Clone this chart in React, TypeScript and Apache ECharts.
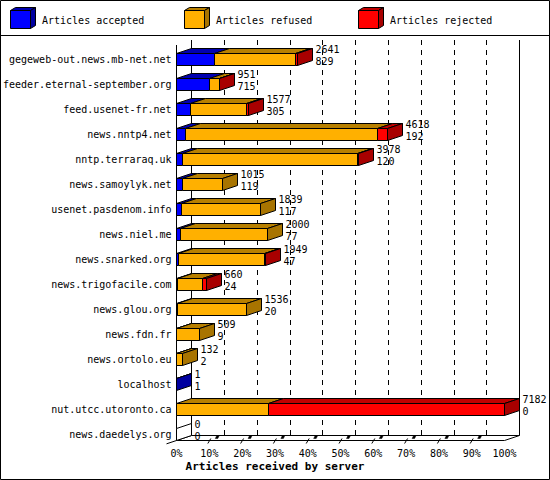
import React, { useEffect, useRef } from 'react';
import * as echarts from 'echarts';

const hosts = [
  'gegeweb-out.news.mb-net.net',
  'feeder.eternal-september.org',
  'feed.usenet-fr.net',
  'news.nntp4.net',
  'nntp.terraraq.uk',
  'news.samoylyk.net',
  'usenet.pasdenom.info',
  'news.niel.me',
  'news.snarked.org',
  'news.trigofacile.com',
  'news.glou.org',
  'news.fdn.fr',
  'news.ortolo.eu',
  'localhost',
  'nut.utcc.utoronto.ca',
  'news.daedelys.org',
];
const accepted = [829, 715, 305, 192, 120, 119, 117, 77, 47, 24, 20, 9, 2, 1, 0, 0];
const refused = [1782, 216, 1232, 4206, 3838, 896, 1722, 1923, 1882, 553, 1516, 500, 130, 0, 2020, 0];
const rejected = [30, 20, 40, 220, 20, 0, 0, 0, 20, 83, 0, 0, 0, 0, 5162, 0];
const legendNames = ['Articles accepted', 'Articles refused', 'Articles rejected'];
const xTickPercents = [0, 10, 20, 30, 40, 50, 60, 70, 80, 90, 100];
const axisTitle = 'Articles received by server';

const FRONT = ['#0000FF', '#FFB000', '#FF0000'];
const TOP = ['#0000B0', '#B88000', '#C00000'];
const SIDE = ['#0000A0', '#A87400', '#A80000'];
const FAMILY = "'DejaVu Sans Mono', monospace";
const FONT = "10px 'DejaVu Sans Mono', monospace";

const GRID_LEFT = 176.5;
const GRID_W = 328;
const GRID_TOP = 46.5;
const ROW = 25;
const DX = 15;
const DY = 5;
const WALL_TOP = 40;
const FLOOR_FRONT = 440.5;
const FLOOR_BACK = FLOOR_FRONT - DY;

function txt(x: number, y: number, text: string, font = FONT, align = 'left') {
  return {
    type: 'text',
    x,
    y,
    style: {
      text,
      font,
      fill: '#000',
      align,
      verticalAlign: 'middle',
      textAlign: align,
      textVerticalAlign: 'middle',
    },
  };
}

function line(x1: number, y1: number, x2: number, y2: number, extra: any = {}) {
  return {
    type: 'line',
    shape: { x1, y1, x2, y2 },
    style: { stroke: '#000', lineWidth: 1, ...extra },
  };
}

export default function App() {
  const ref = useRef<HTMLDivElement>(null);
  useEffect(() => {
    if (!ref.current) return;
    const chart = echarts.init(ref.current, undefined, { renderer: 'svg' });
    const totals = hosts.map((_, i) => accepted[i] + refused[i] + rejected[i]);
    const maxTotal = Math.max(...totals);
    const pct = (v: number) => (v / maxTotal) * 100;
    const data = hosts.map((_, i) => [pct(accepted[i]), pct(refused[i]), pct(rejected[i]), i]);

    const renderItem = (params: any, api: any) => {
      const i = params.dataIndex;
      const vals = [api.value(0), api.value(1), api.value(2)];
      const cat = api.value(3);
      const base = api.coord([0, cat]);
      const yt = Math.round(base[1] - 6) + 0.5;
      const yb = yt + 12;
      const px = (v: number) => Math.floor(api.coord([v, cat])[0] + 0.001) + 0.5;
      const children: any[] = [];
      let acc = 0;
      let last = -1;
      let xEnd = px(0);
      for (let s = 0; s < 3; s++) {
        const v = vals[s];
        if (!(v > 0)) continue;
        const xa = px(acc);
        const xb = px(acc + v);
        acc += v;
        last = s;
        xEnd = xb;
        children.push({
          type: 'polygon',
          shape: { points: [[xa, yt], [xa + DX, yt - DY], [xb + DX, yt - DY], [xb, yt]] },
          style: { fill: TOP[s], stroke: '#000', lineWidth: 1 },
        });
        children.push({
          type: 'rect',
          shape: { x: xa, y: yt, width: xb - xa, height: yb - yt },
          style: { fill: FRONT[s], stroke: '#000', lineWidth: 1 },
        });
      }
      children.push({
        type: 'polygon',
        shape: { points: [[xEnd, yt], [xEnd + DX, yt - DY], [xEnd + DX, yb - DY], [xEnd, yb]] },
        style: { fill: last >= 0 ? SIDE[last] : '#fff', stroke: '#000', lineWidth: 1 },
      });
      const lx = xEnd + DX + 3;
      children.push(txt(lx, yt - 4, String(totals[i])));
      children.push(txt(lx, yt + 7.5, String(accepted[i])));
      return { type: 'group', children };
    };

    const graphic: any[] = [];
    graphic.push({
      type: 'rect',
      shape: { x: 0.5, y: 0.5, width: 549, height: 479 },
      style: { fill: 'none', stroke: '#000', lineWidth: 1 },
    });
    graphic.push(line(0, 35.5, 550, 35.5));
    // legend cubes
    legendNames.forEach((name, k) => {
      const x0 = 10.5 + 174 * k;
      const y0 = 10.5;
      const w = 20;
      const h = 18;
      const dx = 5;
      const dy = 3;
      graphic.push({
        type: 'polygon',
        shape: { points: [[x0, y0], [x0 + dx, y0 - dy], [x0 + w + dx, y0 - dy], [x0 + w, y0]] },
        style: { fill: TOP[k], stroke: '#000', lineWidth: 1 },
      });
      graphic.push({
        type: 'polygon',
        shape: { points: [[x0 + w, y0], [x0 + w + dx, y0 - dy], [x0 + w + dx, y0 + h - dy], [x0 + w, y0 + h]] },
        style: { fill: SIDE[k], stroke: '#000', lineWidth: 1 },
      });
      graphic.push({
        type: 'rect',
        shape: { x: x0, y: y0, width: w, height: h },
        style: { fill: FRONT[k], stroke: '#000', lineWidth: 1 },
      });
      graphic.push(txt(x0 + 31.5, 20, name));
    });
    // walls and floor
    const backLeft = GRID_LEFT + DX;
    const backRight = GRID_LEFT + DX + GRID_W;
    const frontRight = GRID_LEFT + GRID_W;
    graphic.push(line(backLeft, WALL_TOP, backLeft, FLOOR_BACK));
    graphic.push(line(backRight, WALL_TOP, backRight, FLOOR_BACK));
    graphic.push(line(GRID_LEFT, WALL_TOP + DY, GRID_LEFT, FLOOR_FRONT));
    graphic.push(line(GRID_LEFT, FLOOR_FRONT, frontRight, FLOOR_FRONT));
    graphic.push(line(backLeft, FLOOR_BACK, backRight, FLOOR_BACK));
    graphic.push(line(GRID_LEFT - 10, FLOOR_FRONT + 10 * (DY / DX), backLeft, FLOOR_BACK));
    graphic.push(line(frontRight, FLOOR_FRONT, backRight, FLOOR_BACK));
    xTickPercents.slice(1, -1).forEach((p) => {
      const x = GRID_LEFT + (GRID_W * p) / 100;
      graphic.push(line(x - 1.5, FLOOR_FRONT + 3, x + 1.5, FLOOR_FRONT - 2));
      graphic.push({
        type: 'polygon',
        shape: { points: [[x + 6, FLOOR_BACK + 3], [x + 7.5, FLOOR_BACK], [x + 10, FLOOR_BACK], [x + 8.5, FLOOR_BACK + 3]] },
        style: { fill: '#000', stroke: '#000', lineWidth: 0.5 },
      });
    });
    graphic.push(txt(275, 466.5, axisTitle, "bold 11px 'DejaVu Sans Mono', monospace", 'center'));

    chart.setOption({
      animation: false,
      backgroundColor: '#fff',
      textStyle: { fontFamily: FAMILY },
      grid: [
        { left: GRID_LEFT, top: GRID_TOP, width: GRID_W, height: ROW * hosts.length },
        { left: backLeft, top: WALL_TOP, width: GRID_W, height: FLOOR_BACK - WALL_TOP },
      ],
      xAxis: [
        {
          type: 'value',
          gridIndex: 0,
          min: 0,
          max: 100,
          interval: 10,
          axisLine: { show: false },
          axisTick: { show: false },
          splitLine: { show: false },
          axisLabel: {
            formatter: (v: number) => `${v}%`,
            fontSize: 10,
            fontFamily: FAMILY,
            color: '#000',
            margin: 2,
          },
        },
        {
          type: 'value',
          gridIndex: 1,
          min: 0,
          max: 100,
          interval: 10,
          axisLine: { show: false },
          axisTick: { show: false },
          axisLabel: { show: false },
          splitLine: { show: true, lineStyle: { color: '#000', width: 1, type: [5, 5] } },
        },
      ],
      yAxis: [
        {
          type: 'category',
          gridIndex: 0,
          inverse: true,
          data: hosts,
          axisLine: { show: false },
          axisTick: { show: false },
          splitLine: { show: false },
          axisLabel: { fontSize: 10, fontFamily: FAMILY, color: '#000', margin: 5 },
        },
        { type: 'value', gridIndex: 1, show: false },
      ],
      series: [
        {
          type: 'custom',
          name: 'articles',
          xAxisIndex: 0,
          yAxisIndex: 0,
          clip: false,
          renderItem,
          encode: { x: [0, 1, 2], y: 3 },
          data,
          z: 5,
        },
      ],
      graphic,
    });
    return () => chart.dispose();
  }, []);
  return (
    <div
      ref={ref}
      style={{ position: 'absolute', left: 0, top: 0, width: 550, height: 480, background: '#fff' }}
    />
  );
}
